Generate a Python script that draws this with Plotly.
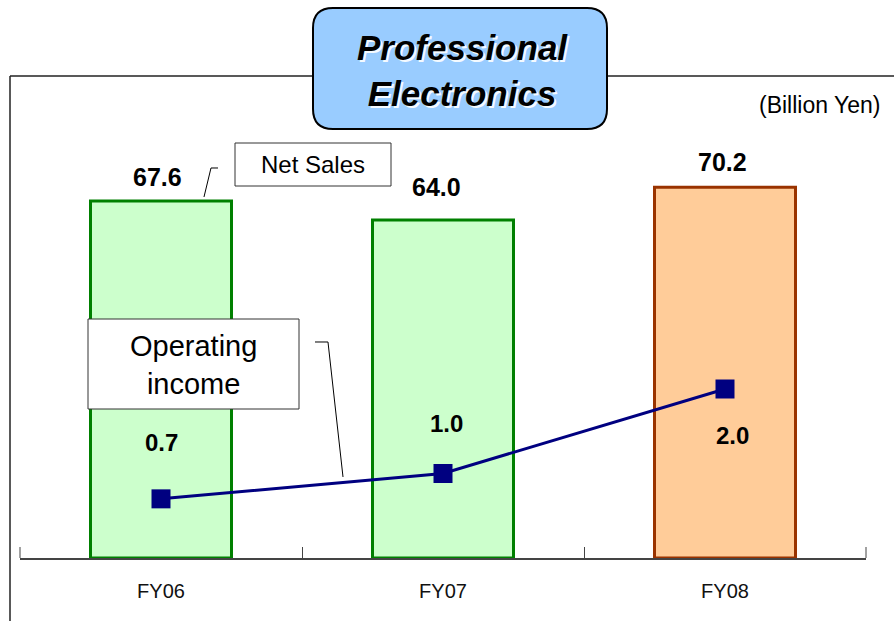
import plotly.graph_objects as go

# ---- data ----
categories = ["FY06", "FY07", "FY08"]
net_sales = [67.6, 64.0, 70.2]
net_sales_labels = ["67.6", "64.0", "70.2"]
op_income = [0.7, 1.0, 2.0]
op_income_labels = ["0.7", "1.0", "2.0"]

# ---- styling ----
FONT = "Liberation Sans, Arial, sans-serif"
W, H = 894, 621
L, R, T, B = 20, 28, 60, 63
PW, PH = W - L - R, H - T - B
bar_fill = ["#CCFFCC", "#CCFFCC", "#FFCC99"]
bar_line = ["#008000", "#008000", "#993300"]
ns_label_shift = [(-4, 24), (-7, 33), (-3, 25)]
op_label_shift = [(0, 56), (3, 50), (7, -46)]
y1_max = PH / 5.28
y2_max = PH / 84.5


def px(x):
    return (x - L) / PW


def py(y):
    return (H - B - y) / PH


fig = go.Figure()
fig.add_trace(go.Bar(
    x=categories, y=net_sales, width=0.5,
    marker=dict(color=bar_fill, line=dict(color=bar_line, width=3)),
    hoverinfo="skip", showlegend=False,
))
fig.add_trace(go.Scatter(
    x=categories, y=op_income, yaxis="y2", mode="lines+markers",
    line=dict(color="#000080", width=3),
    marker=dict(symbol="square", size=19, color="#000080"),
    hoverinfo="skip", showlegend=False,
))

annotations = []
for c, v, t, (dx, dy) in zip(categories, net_sales, net_sales_labels, ns_label_shift):
    annotations.append(dict(x=c, y=v, xref="x", yref="y", text="<b>%s</b>" % t,
                            showarrow=False, xanchor="center", yanchor="middle",
                            yshift=dy, xshift=dx,
                            font=dict(family=FONT, size=25, color="black")))
for c, v, t, (dx, dy) in zip(categories, op_income, op_income_labels, op_label_shift):
    annotations.append(dict(x=c, y=v, xref="x", yref="y2", text="<b>%s</b>" % t,
                            showarrow=False, xanchor="center", yanchor="middle",
                            yshift=dy, xshift=dx,
                            font=dict(family=FONT, size=24, color="black")))

# title text with light shadow
annotations.append(dict(x=px(462), y=py(70), xref="paper", yref="paper",
                        text="<b><i>Professional<br>Electronics</i></b>",
                        showarrow=False, xanchor="center", yanchor="middle",
                        font=dict(family=FONT, size=35, color="black",
                                  shadow="2px 2px 0px #F4FAFF")))
annotations.append(dict(x=px(313), y=py(165), xref="paper", yref="paper", text="Net Sales",
                        showarrow=False, xanchor="center", yanchor="middle",
                        font=dict(family=FONT, size=24, color="black")))
annotations.append(dict(x=px(193), y=py(365), xref="paper", yref="paper",
                        text="Operating<br>income", showarrow=False,
                        xanchor="center", yanchor="middle",
                        font=dict(family=FONT, size=29, color="black")))
annotations.append(dict(x=px(882), y=py(105), xref="paper", yref="paper", text="(Billion Yen)",
                        showarrow=False, xanchor="right", yanchor="middle",
                        font=dict(family=FONT, size=23, color="black")))


def rounded_rect(x0, y0, x1, y1, r):
    p = lambda x, y: "%f,%f" % (px(x), py(y))
    return ("M " + p(x0 + r, y0) + " L " + p(x1 - r, y0) + " Q " + p(x1, y0) + " " + p(x1, y0 + r) +
            " L " + p(x1, y1 - r) + " Q " + p(x1, y1) + " " + p(x1 - r, y1) +
            " L " + p(x0 + r, y1) + " Q " + p(x0, y1) + " " + p(x0, y1 - r) +
            " L " + p(x0, y0 + r) + " Q " + p(x0, y0) + " " + p(x0 + r, y0) + " Z")


shapes = [
    # outer frame
    dict(type="line", xref="paper", yref="paper", x0=px(10), y0=py(76), x1=px(10), y1=py(625),
         line=dict(color="#222", width=1.5)),
    dict(type="line", xref="paper", yref="paper", x0=px(10), y0=py(76), x1=px(900), y1=py(76),
         line=dict(color="#222", width=1.5)),
    # edge ticks of the category axis
    dict(type="line", xref="paper", yref="paper", x0=0, y0=0, x1=0, y1=11 / PH,
         line=dict(color="#444", width=1)),
    dict(type="line", xref="paper", yref="paper", x0=1, y0=0, x1=1, y1=11 / PH,
         line=dict(color="#444", width=1)),
    # title box
    dict(type="path", xref="paper", yref="paper", path=rounded_rect(313, 8, 607, 129, 20),
         fillcolor="#99CCFF", line=dict(color="black", width=2), layer="above"),
    # net sales box
    dict(type="rect", xref="paper", yref="paper", x0=px(235), y0=py(143), x1=px(391), y1=py(186),
         fillcolor="white", line=dict(color="#333", width=1), layer="above"),
    dict(type="path", xref="paper", yref="paper",
         path="M %f,%f L %f,%f L %f,%f" % (px(204), py(197), px(211), py(168), px(218), py(168)),
         line=dict(color="black", width=1), layer="above"),
    # operating income box
    dict(type="rect", xref="paper", yref="paper", x0=px(88), y0=py(319), x1=px(299), y1=py(409),
         fillcolor="white", line=dict(color="#333", width=1), layer="above"),
    dict(type="path", xref="paper", yref="paper",
         path="M %f,%f L %f,%f L %f,%f" % (px(315), py(342), px(328), py(342), px(343), py(477)),
         line=dict(color="black", width=1), layer="above"),
]

fig.update_layout(
    width=W, height=H, margin=dict(l=L, r=R, t=T, b=B),
    paper_bgcolor="white", plot_bgcolor="white",
    showlegend=False,
    xaxis=dict(type="category", range=[-0.5, 2.5], showline=True, linecolor="#444", linewidth=1.5,
               ticks="inside", tickson="boundaries", ticklen=11, tickcolor="#444", tickwidth=1,
               ticklabelstandoff=14,
               showgrid=False, zeroline=False,
               tickfont=dict(family=FONT, size=20, color="#111")),
    yaxis=dict(range=[0, y1_max], visible=False, showgrid=False, zeroline=False),
    yaxis2=dict(range=[0, y2_max], overlaying="y", side="right", visible=False,
                showgrid=False, zeroline=False),
    annotations=annotations,
    shapes=shapes,
)

fig.write_html("out.html")
